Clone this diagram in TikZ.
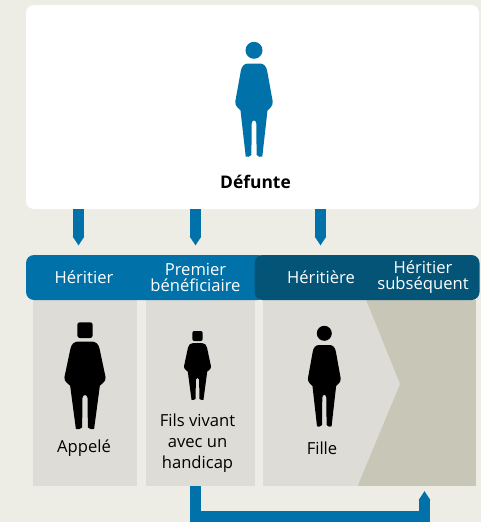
\documentclass[tikz,border=0pt]{standalone}
\usepackage{fontspec}
\usepackage{xcolor}
\setmainfont{Open Sans}
\usetikzlibrary{arrows.meta}

\definecolor{pagebg}{HTML}{EDEDE6}
\definecolor{panellight}{HTML}{DEDCD6}
\definecolor{paneldark}{HTML}{C8C6B6}
\definecolor{bandblue}{HTML}{0072A9}
\definecolor{banddark}{HTML}{045478}

\tikzset{
    box/.style={inner sep=0pt,outer sep=0pt,rounded corners=8pt},
    panel/.style={inner sep=0pt,outer sep=0pt,fill=panellight},
    bandtext/.style={text=white,align=center,font=\fontsize{16.6}{16}\selectfont},
    paneltext/.style={text=black,align=center,font=\fontsize{16.6}{21}\selectfont},
    flow/.style={draw=bandblue,line width=11pt,-{Triangle[length=9pt,width=11pt]}},
    body/.pic={
        \path[pic actions] (-6,0) -- (6,0) .. controls (10,0) and (12.5,3) .. (13.3,8)
            -- (18.7,38) .. controls (19,41) and (18,42) .. (16.5,44) -- (13.5,47)
            -- (8.3,93) -- (5.5,93.3) -- (2.6,91.5) -- (2.3,60)
            .. controls (2.2,56) and (-2.2,56) .. (-2.3,60)
            -- (-2.6,91.5) -- (-5.5,93.3) -- (-8.3,93) -- (-13.5,47) -- (-16.5,44)
            .. controls (-18,42) and (-19,41) .. (-18.7,38) -- (-13.3,8)
            .. controls (-12.5,3) and (-10,0) .. (-6,0) -- cycle;
    }
}

\begin{document}
\begin{tikzpicture}[x=1pt,y=-1pt]
    % Page and top box:
    \useasboundingbox (0,0) rectangle (481,522);
    \fill[pagebg] (0,0) rectangle (481,522);
    \node[box,fill=white,minimum width=453pt,minimum height=204pt] (defunte) at (252.5,107) {};

    % Panels:
    \node[panel,minimum width=104pt,minimum height=186pt] (appele) at (85,393) {};
    \node[panel,minimum width=109pt,minimum height=186pt] (fils) at (200.5,393) {};
    \node[panel,fill=paneldark,minimum width=213pt,minimum height=186pt] (rest) at (369.5,393) {};
    \fill[panellight] (rest.north west) -- (366,300) -- (400,384) -- (357.5,486) -- (rest.south west) -- cycle;

    % Bands:
    \node[box,fill=bandblue,minimum width=240pt,minimum height=45pt] (bandleft) at (146,277.5) {};
    \node[box,fill=banddark,minimum width=225pt,minimum height=45pt] (bandright) at (367,277.5) {};
    \node[bandtext] (heritier) at (84,277.5) {Héritier};
    \node[bandtext] (premier) at (195.5,277.5) {Premier\\bénéficiaire};
    \node[bandtext] (heritiere) at (321,277.5) {Héritière};
    \node[bandtext] (subsequent) at (423,277.5) {Héritier\\subséquent};

    % Arrows from the top box:
    \foreach \n/\xpos in {a/78.5,b/195.5,c/320.5}{%
        \coordinate (tip\n) at (\xpos,245.5);
        \draw[flow] (defunte.south -| tip\n) -- (tip\n);
    }

    % Arrow along the bottom:
    \coordinate (startlow) at (195.5,486);
    \coordinate (endlow) at (424.5,491);
    \draw[flow] (startlow) -- (195.5,516.5) -- (424.5,516.5) -- (endlow);

    % People:
    \fill[bandblue] (254,50.3) circle (8.5);
    \pic[fill=bandblue] at (254,63.5) {body};
    \fill[black,rounded corners=2.5pt] (77.3,322.3) rectangle (92.7,338);
    \pic[fill=black,xscale=1.1,yscale=.94] at (85,341.5) {body};
    \fill[black,rounded corners=2pt] (192.3,331) rectangle (202.7,341);
    \pic[fill=black,xscale=.72,yscale=.61] at (197.5,343) {body};
    \fill[black] (324.3,333.3) circle (7.5);
    \pic[fill=black,xscale=.875,yscale=.875] at (324.3,345) {body};

    % Texts:
    \node[text=black,font=\fontsize{17.4}{18}\selectfont\bfseries] (defuntelabel) at (255.5,182) {Défunte};
    \node[paneltext] (appelelabel) at (84,448.5) {Appelé};
    \node[paneltext] (filslabel) at (197.5,443.5) {Fils vivant\\avec un\\handicap};
    \node[paneltext] (fillelabel) at (322,448) {Fille};
\end{tikzpicture}
\end{document}
